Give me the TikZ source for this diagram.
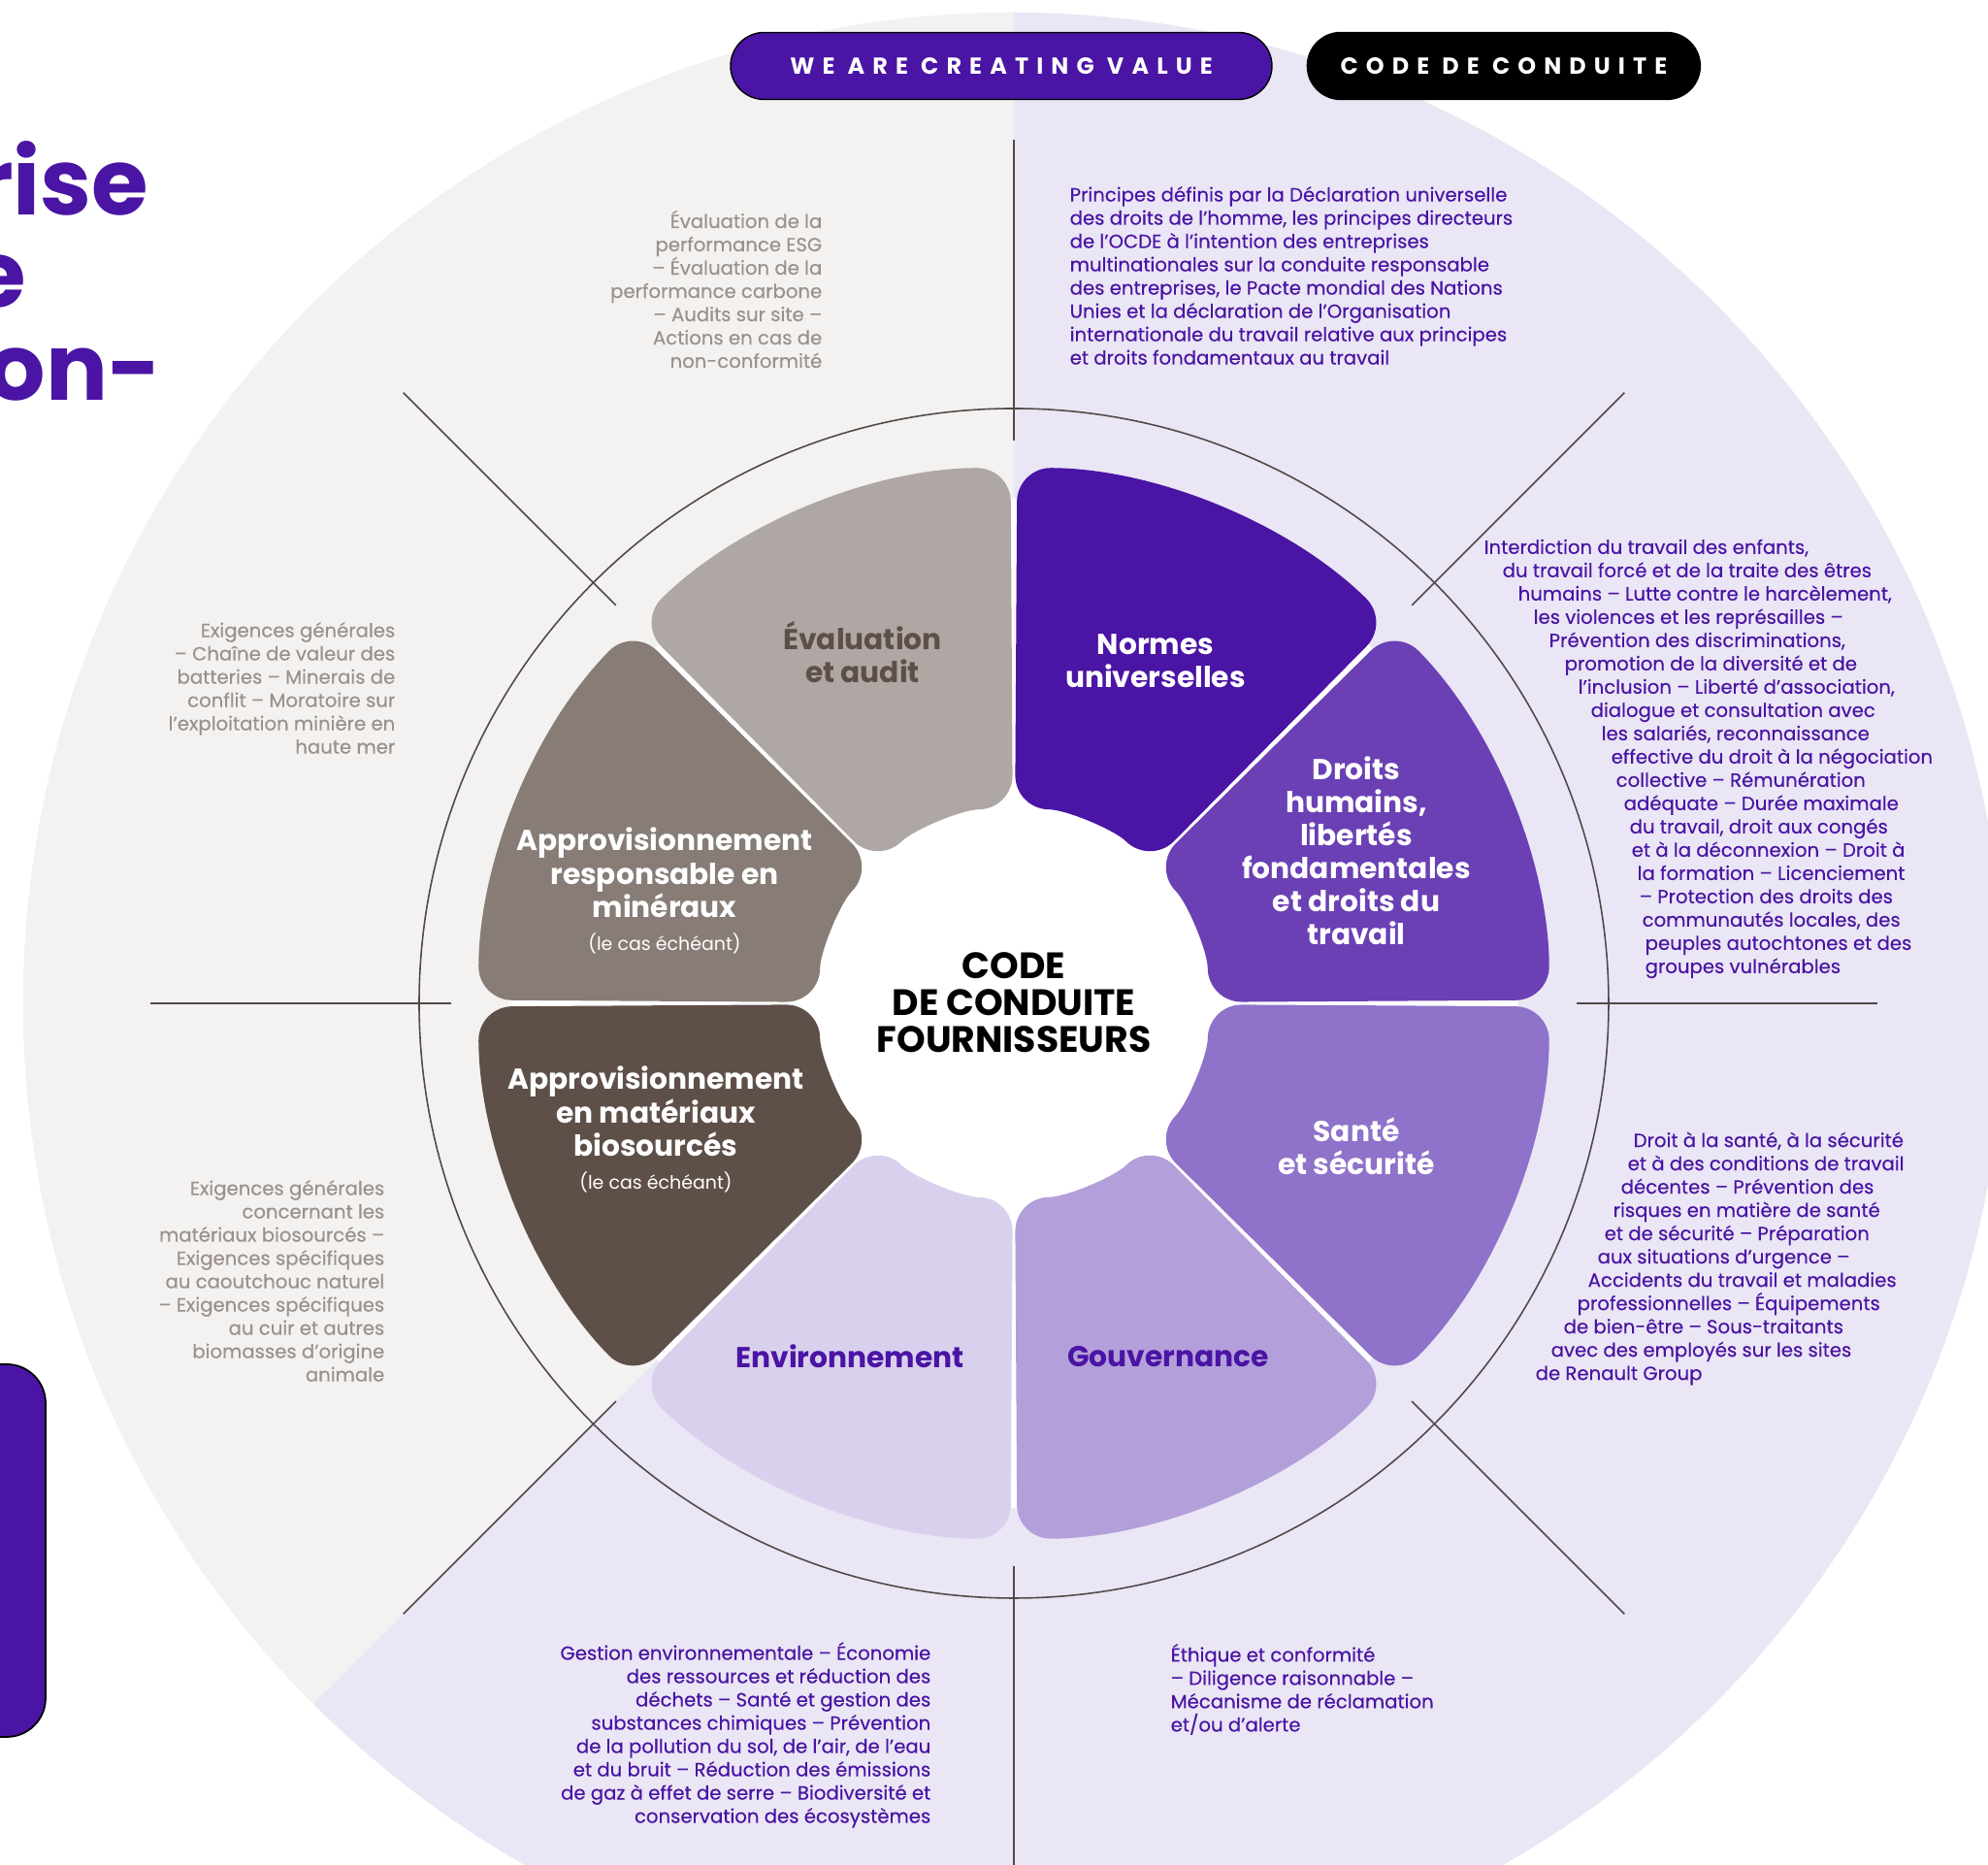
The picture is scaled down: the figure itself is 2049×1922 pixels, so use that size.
\documentclass[tikz,border=0pt]{standalone}
\usepackage{fontspec}
\setmainfont{Poppins}
\newfontfamily\trackfont[LetterSpace=34]{Poppins}
\newfontfamily\descfont[FakeBold=0.3]{Poppins}
\usepackage{tikz}
\usetikzlibrary{positioning}

\definecolor{bgGrey}{HTML}{F3F2F1}
\definecolor{bgLavender}{HTML}{EAE6F5}
\definecolor{deepViolet}{HTML}{4A14A4}
\definecolor{descGrey}{HTML}{9C918A}
\definecolor{ruleGrey}{HTML}{4F4A48}
\definecolor{petDroits}{HTML}{6A40B4}
\definecolor{petNormes}{HTML}{4A14A4}
\definecolor{petEval}{HTML}{AEA7A3}
\definecolor{petMin}{HTML}{877C76}
\definecolor{petBio}{HTML}{5E4F48}
\definecolor{petEnv}{HTML}{D9D0EE}
\definecolor{petGouv}{HTML}{B39FDA}
\definecolor{petSante}{HTML}{8F72C9}
\definecolor{evalText}{HTML}{5D4F48}

\begin{document}
\begin{tikzpicture}[
	x=0.1mm,y=0.1mm,
	petal/.style={rounded corners=3.5mm},
	divider/.style={draw=ruleGrey,line width=0.45pt},
	desc/.style={inner sep=0pt,font=\descfont\fontsize{5.6}{6.83}\selectfont},
	greydesc/.style={desc,text=descGrey,align=right,anchor=east},
	violetdesc/.style={desc,text=deepViolet,align=left,anchor=west},
	petaltext/.style={inner sep=0pt,align=center,text=white,font=\fontsize{8.45}{9.7}\selectfont\bfseries},
	pill/.style={rounded corners=3.45mm,draw=black,line width=0.4pt,minimum height=6.9mm,inner sep=0pt,text=white,font=\trackfont\fontsize{6.8}{7}\selectfont\bfseries},
	]
	\clip (-1045,-888) rectangle (1004,1034);
	
	% background halves
	\fill[bgLavender] (0,0) circle[radius=1021];
	\fill[bgGrey] (0,0) -- (90:1021) arc[start angle=90,end angle=225,radius=1021] -- cycle;
	\fill[white] (0,0) circle[radius=520];
	
	\draw[divider] (0,0) circle[radius=613];
	\foreach \a in {0,45,...,315}
		\draw[divider] (\a:580) -- (\a:890);
	
	% petals
	\foreach \a/\col in {0/petDroits,45/petNormes,90/petEval,135/petMin,180/petBio,225/petEnv,270/petGouv,315/petSante}
		\fill[\col,petal] ({\a+0.35}:380) -- ({\a+0.35}:552) arc[start angle=\a+0.35,end angle=\a+44.65,radius=552] -- ({\a+44.65}:200) arc[start angle=\a+44.65,end angle=\a+0.35,radius=200] -- cycle;
	
	\node[petaltext,text=black,font=\fontsize{10.75}{10.8}\selectfont\bfseries] (centre) at (0,1) {CODE\\DE CONDUITE\\FOURNISSEURS};
	
	\node[petaltext] (normes) at (146,353) {Normes\\universelles};
	\node[petaltext] (droits) at (353,157) {Droits\\humains,\\libertés\\fondamentales\\et droits du\\travail};
	\node[petaltext] (sante) at (353,-147) {Santé\\et sécurité};
	\node[petaltext,text=deepViolet] (gouv) at (159,-364) {Gouvernance};
	\node[petaltext,text=deepViolet] (env) at (-169,-364) {Environnement};
	\node[petaltext] (bio) at (-369,-130) {Approvisionnement\\en matériaux\\biosourcés\\{\fontsize{5.4}{9.7}\selectfont\mdseries (le cas échéant)}};
	\node[petaltext] (min) at (-360,116) {Approvisionnement\\responsable en\\minéraux\\{\fontsize{5.4}{9.7}\selectfont\mdseries (le cas échéant)}};
	\node[petaltext,text=evalText] (eval) at (-156,362) {Évaluation\\et audit};
	
	% outer descriptions
	\node[greydesc] (evaldesc) at (-197,736) {Évaluation de la\\performance ESG\\– Évaluation de la\\performance carbone\\– Audits sur site –\\Actions en cas de\\non-conformité};
	\node[violetdesc] (normesdesc) at (57,750) {Principes définis par la Déclaration universelle\\des droits de l’homme, les principes directeurs\\de l’OCDE à l’intention des entreprises\\multinationales sur la conduite responsable\\des entreprises, le Pacte mondial des Nations\\Unies et la déclaration de l’Organisation\\internationale du travail relative aux principes\\et droits fondamentaux au travail};
	\node[greydesc] (mindesc) at (-637,325) {Exigences générales\\– Chaîne de valeur des\\batteries – Minerais de\\conflit – Moratoire sur\\l’exploitation minière en\\haute mer};
	\node[greydesc] (biodesc) at (-648,-286) {Exigences générales\\concernant les\\matériaux biosourcés –\\Exigences spécifiques\\au caoutchouc naturel\\– Exigences spécifiques\\au cuir et autres\\biomasses d’origine\\animale};
	\node[violetdesc] (droitsdesc) at (484,252) {Interdiction du travail des enfants,\\
		\hspace*{1.9mm}du travail forcé et de la traite des êtres\\
		\hspace*{3.5mm}humains – Lutte contre le harcèlement,\\
		\hspace*{5.1mm}les violences et les représailles –\\
		\hspace*{6.7mm}Prévention des discriminations,\\
		\hspace*{8.3mm}promotion de la diversité et de\\
		\hspace*{9.7mm}l’inclusion – Liberté d’association,\\
		\hspace*{11mm}dialogue et consultation avec\\
		\hspace*{12.1mm}les salariés, reconnaissance\\
		\hspace*{13.1mm}effective du droit à la négociation\\
		\hspace*{13.6mm}collective – Rémunération\\
		\hspace*{14.4mm}adéquate – Durée maximale\\
		\hspace*{15mm}du travail, droit aux congés\\
		\hspace*{15.2mm}et à la déconnexion – Droit à\\
		\hspace*{15.8mm}la formation – Licenciement\\
		\hspace*{16mm}– Protection des droits des\\
		\hspace*{16.3mm}communautés locales, des\\
		\hspace*{16.6mm}peuples autochtones et des\\
		\hspace*{16.6mm}groupes vulnérables};
	\node[violetdesc] (santedesc) at (537,-263) {\hspace*{10.1mm}Droit à la santé, à la sécurité\\
		\hspace*{9.5mm}et à des conditions de travail\\
		\hspace*{8.8mm}décentes – Prévention des\\
		\hspace*{8mm}risques en matière de santé\\
		\hspace*{7.1mm}et de sécurité – Préparation\\
		\hspace*{6.4mm}aux situations d’urgence –\\
		\hspace*{5.4mm}Accidents du travail et maladies\\
		\hspace*{4.3mm}professionnelles – Équipements\\
		\hspace*{2.9mm}de bien-être – Sous-traitants\\
		\hspace*{1.6mm}avec des employés sur les sites\\
		de Renault Group};
	\node[greydesc,text=deepViolet] (envdesc) at (-85,-754) {Gestion environnementale – Économie\\des ressources et réduction des\\déchets – Santé et gestion des\\substances chimiques – Prévention\\de la pollution du sol, de l’air, de l’eau\\et du bruit – Réduction des émissions\\de gaz à effet de serre – Biodiversité et\\conservation des écosystèmes};
	\node[violetdesc] (gouvdesc) at (161,-707) {Éthique et conformité\\– Diligence raisonnable –\\Mécanisme de réclamation\\et/ou d’alerte};
	
	% header pills
	\node[pill,fill=deepViolet,minimum width=55.8mm] (valuepill) at (-13,966) {WE ARE CREATING VALUE};
	\node[pill,fill=black,minimum width=40.5mm,right=3.5mm of valuepill] (codepill) {CODE DE CONDUITE};
	
	% title fragments on the left
	\node[anchor=base east,inner sep=0pt,text=deepViolet,font=\fontsize{27}{28}\selectfont\bfseries] (tline1) at (-891,812) {rise};
	\node[anchor=base east,inner sep=0pt,text=deepViolet,font=\fontsize{27}{28}\selectfont\bfseries] (tline2) at (-1017,717) {e};
	\node[anchor=base east,inner sep=0pt,text=deepViolet,font=\fontsize{27}{28}\selectfont\bfseries] (tline3) at (-878,621) {on-};
	\fill[deepViolet,draw=black,line width=0.5pt,rounded corners=4mm] (-1100,-372) rectangle (-998,-756);
\end{tikzpicture}
\end{document}
